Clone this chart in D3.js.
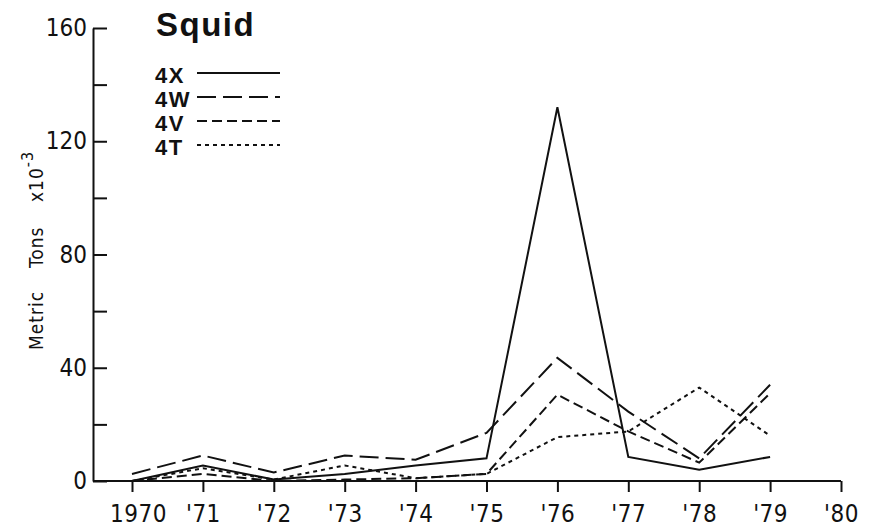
<!DOCTYPE html>
<html lang="en">

<head>
    <meta charset="UTF-8">
    <title>Squid</title>
    <script src="https://d3js.org/d3.v7.min.js"></script>
    <style>
        body {
            margin: 0;
            background: #fff;
        }

        .tick text,
        .ytitle {
            font-family: "DejaVu Sans Condensed", "DejaVu Sans", sans-serif;
            font-stretch: condensed;
            fill: #111;
        }

        .title,
        .legend text {
            font-family: "Liberation Sans", Arial, sans-serif;
            font-weight: bold;
            fill: #111;
        }

        .series {
            fill: none;
            stroke: #111;
            stroke-width: 2;
            stroke-linejoin: miter;
        }
    </style>
</head>

<body>
    <svg width="877" height="528"></svg>
</body>

<script>
    // Years and catches (metric tons x 10^-3)
    const years = [1970, 1971, 1972, 1973, 1974, 1975, 1976, 1977, 1978, 1979];
    const tickYears = [1970, 1971, 1972, 1973, 1974, 1975, 1976, 1977, 1978, 1979, 1980];
    const yearLabels = ["1970", "'71", "'72", "'73", "'74", "'75", "'76", "'77", "'78", "'79", "'80"];

    const s4X = [0, 5.5, 0.5, 2.5, 5.5, 8, 132, 8.5, 4, 8.5];
    const s4W = [2.5, 9, 3, 9, 7.5, 17, 43.5, 24.5, 8, 34];
    const s4V = [0, 2.5, 0, 0.5, 1, 2.5, 30.5, 17.5, 6.5, 31];
    const s4T = [0, 4.5, 0.5, 5.5, 1, 2.5, 15.5, 17.5, 33, 16];

    const yTicks = [0, 20, 40, 60, 80, 100, 120, 140, 160];

    const series = [
        { name: "4X", values: s4X, dash: null },
        { name: "4W", values: s4W, dash: "19,7" },
        { name: "4V", values: s4V, dash: "10,5" },
        { name: "4T", values: s4T, dash: "4,4" }
    ];

    const svg = d3.select("svg");

    const x = d3.scaleLinear().domain([1970, 1980]).range([132, 841]);
    const y = d3.scaleLinear().domain([0, 160]).range([481, 28]);
    const axisLeftX = 93;

    // x axis: baseline runs from the y axis to '80
    svg.append("line")
        .attr("x1", axisLeftX).attr("x2", x(1980))
        .attr("y1", y(0)).attr("y2", y(0))
        .attr("stroke", "#111").attr("stroke-width", 2);

    const xAxis = svg.append("g")
        .attr("transform", `translate(0,${y(0)})`)
        .call(d3.axisBottom(x)
            .tickValues(tickYears)
            .tickSize(11)
            .tickPadding(12)
            .tickFormat((d, i) => yearLabels[i]));
    xAxis.select(".domain").remove();
    xAxis.selectAll(".tick line").attr("stroke", "#111").attr("stroke-width", 2);
    xAxis.selectAll(".tick text").attr("font-size", 24).attr("dy", "0.75em").attr("letter-spacing", 0.5);
    xAxis.selectAll(".tick text").filter(d => d === 1970).attr("dx", 6);

    // y axis: ticks point inward, labels every 40
    const yAxis = svg.append("g")
        .attr("transform", `translate(${axisLeftX},0)`)
        .call(d3.axisLeft(y)
            .tickValues(yTicks)
            .tickSizeInner(-14)
            .tickSizeOuter(0)
            .tickPadding(6)
            .tickFormat(d => d % 40 === 0 ? d : ""));
    yAxis.select(".domain").attr("stroke", "#111").attr("stroke-width", 2);
    yAxis.selectAll(".tick line").attr("stroke", "#111").attr("stroke-width", 2);
    yAxis.selectAll(".tick text").attr("font-size", 24);

    // y axis title
    const yt = svg.append("text")
        .attr("class", "ytitle")
        .attr("transform", "translate(43,350) rotate(-90)")
        .attr("font-size", 19)
        .attr("letter-spacing", 1);
    yt.append("tspan").attr("x", 0).text("Metric");
    yt.append("tspan").attr("x", 82).text("Tons");
    yt.append("tspan").attr("x", 148).text("x10");
    yt.append("tspan").attr("dy", -10).attr("font-size", 16).text("-3");

    // lines
    const line = d3.line()
        .x((d, i) => x(years[i]))
        .y(d => y(d));

    svg.selectAll(".series")
        .data(series)
        .enter().append("path")
        .attr("class", "series")
        .attr("stroke-dasharray", d => d.dash)
        .attr("d", d => line(d.values));

    // title
    svg.append("text")
        .attr("class", "title")
        .attr("x", 156).attr("y", 36)
        .attr("font-size", 33)
        .attr("letter-spacing", 1.5)
        .text("Squid");

    // legend
    const legend = svg.append("g").attr("class", "legend");
    const lg = legend.selectAll("g")
        .data(series)
        .enter().append("g")
        .attr("transform", (d, i) => `translate(155,${83 + i * 24})`);
    lg.append("text")
        .attr("font-size", 22)
        .attr("letter-spacing", 1.5)
        .text(d => d.name);
    lg.append("line")
        .attr("x1", 197).attr("x2", 280)
        .attr("transform", "translate(-155,0)")
        .attr("y1", -10).attr("y2", -10)
        .attr("stroke", "#111")
        .attr("stroke-width", 2)
        .attr("stroke-dasharray", d => d.dash);
</script>

</html>
